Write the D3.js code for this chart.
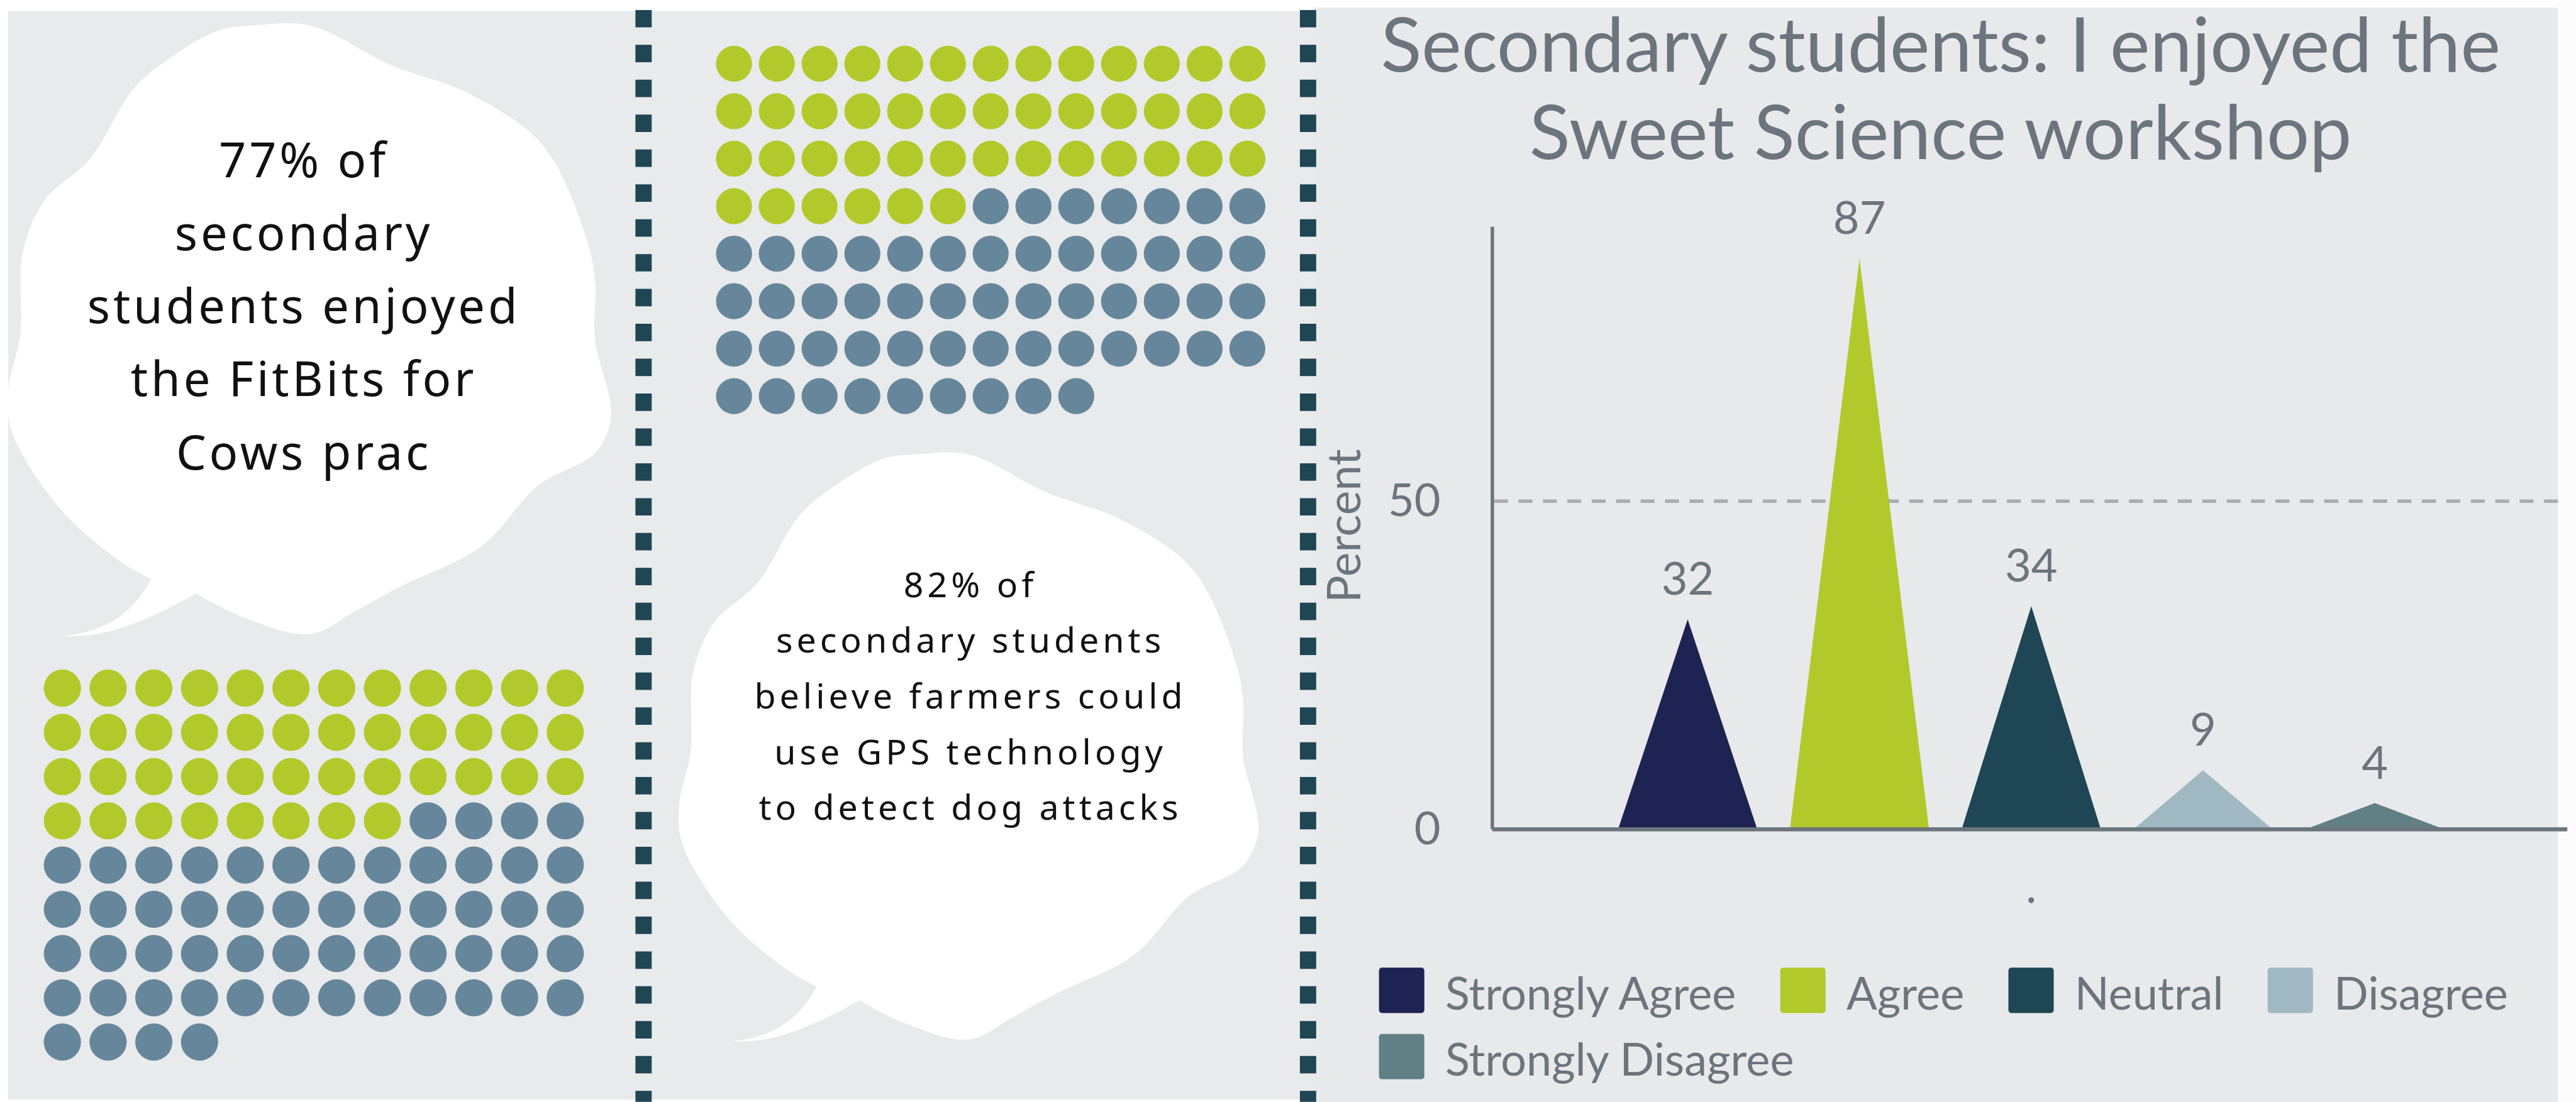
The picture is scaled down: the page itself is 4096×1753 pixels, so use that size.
<!DOCTYPE html>
<html>
<head>
<meta charset="utf-8">
<script src="https://cdn.jsdelivr.net/npm/d3@7"></script>
<style>
html, body { margin: 0; padding: 0; background: #ffffff; overflow: hidden; }
</style>
</head>
<body>
<svg id="chart" width="4096" height="1753" viewBox="0 0 4431 1896"></svg>
<script>
// ---- data ----
var categories = ["Strongly Agree", "Agree", "Neutral", "Disagree", "Strongly Disagree"];
var percents = [32, 87, 34, 9, 4];
var barColors = ["#1e2353", "#b2c92b", "#1f4654", "#a0b8c1", "#618085"];
var yTicks = [0, 50];
var xTitle = ".";
var yTitle = "Percent";
var titleLines = ["Secondary students: I enjoyed the", "Sweet Science workshop"];

// waffles: [highlighted, rest]
var fitbitWaffle = [44, 56];
var gpsWaffle = [45, 55];
var waffleColors = ["#b2c92b", "#66879b"];

var fitbitLines = ["77% of", "secondary", "students enjoyed", "the FitBits for", "Cows prac"];
var gpsLines = ["82% of", "secondary students", "believe farmers could", "use GPS technology", "to detect dog attacks"];

// ---- setup ----
var textGray = "#6c757d";
var svg = d3.select("#chart");

// panels
svg.append("rect").attr("x", 14).attr("y", 19).attr("width", 2250).attr("height", 1873).attr("fill", "#e9eaec");
svg.append("rect").attr("x", 2258).attr("y", 13).attr("width", 2142).attr("height", 1883).attr("fill", "#e8e9eb");
svg.append("rect").attr("x", 4400).attr("y", 0).attr("width", 31).attr("height", 1896).attr("fill", "#fcfcfc");

// dashed separators
[1107, 2250].forEach(function (cx) {
    svg.append("line")
        .attr("x1", cx).attr("x2", cx)
        .attr("y1", 17).attr("y2", 1896)
        .attr("stroke", "#1f4654")
        .attr("stroke-width", 28)
        .attr("stroke-dasharray", "30,30");
});

// ---- speech bubbles ----
var bodyPts = [
    [260, 996], [210, 968], [105, 877], [21, 744], [14, 673], [35, 575], [39, 435],
    [77, 344], [154, 274], [231, 151], [295, 98], [379, 51], [435, 43.5], [533, 43.5],
    [673, 112], [807, 161], [933, 249], [1010, 414], [1024, 491], [1023, 582],
    [1051, 716], [1024, 779], [926, 835], [828, 940], [687, 1010], [610, 1052],
    [533, 1091], [421, 1063], [337, 1021]
];
var bubblePath = d3.line().curve(d3.curveCatmullRom.alpha(0.5))(bodyPts) +
    " Q197,1102 109,1094 Q215,1085 260,996 Z";

function drawBubble(tx, ty, s, lines, cx, baseY, lineH, fontSize, spacing) {
    var g = svg.append("g");
    g.append("path")
        .attr("d", bubblePath)
        .attr("fill", "#ffffff")
        .attr("transform", "translate(" + tx + "," + ty + ") scale(" + s + ")");
    g.selectAll("text.bubble")
        .data(lines)
        .enter()
        .append("text")
        .attr("class", "bubble")
        .attr("x", cx + spacing / 2)
        .attr("y", function (d, i) { return baseY + i * lineH; })
        .attr("text-anchor", "middle")
        .style("font-family", "'Noto Sans', sans-serif")
        .style("font-size", fontSize + "px")
        .style("letter-spacing", spacing + "px")
        .style("fill", "#111111")
        .text(function (d) { return d; });
}
drawBubble(0, 0, 1, fitbitLines, 520, 305, 125.6, 82, 5.2);
drawBubble(1168 - 14 * 0.961, 782 - 43.5 * 0.962, 0.961, gpsLines, 1666, 1027, 96, 60, 6.5);

// ---- waffles ----
function drawWaffle(counts, cols, xr, yr, r) {
    var dots = [];
    counts.forEach(function (c, k) {
        for (var j = 0; j < c; j++) dots.push(k);
    });
    var rows = Math.ceil(dots.length / cols);
    var x = d3.scaleLinear().domain([0, cols - 1]).range(xr);
    var y = d3.scaleLinear().domain([0, rows - 1]).range(yr);
    svg.append("g").selectAll("circle")
        .data(dots)
        .enter()
        .append("circle")
        .attr("cx", function (d, i) { return x(i % cols); })
        .attr("cy", function (d, i) { return y(Math.floor(i / cols)); })
        .attr("r", r)
        .attr("fill", function (d) { return waffleColors[d]; });
}
drawWaffle(fitbitWaffle, 12, [107.3, 972.3], [1184, 1793], 32);
drawWaffle(gpsWaffle, 13, [1262.6, 2145.6], [109.5, 681.5], 31);

// ---- chart ----
var axisX = 2567, baseY = 1427;
var y = d3.scaleLinear().domain([0, 91.8]).range([baseY, 390]);
var x = d3.scalePoint().domain(categories).range([2903, 4085]);
var halfW = x.step() * 0.405;

var chart = svg.append("g");

chart.selectAll("text.title")
    .data(titleLines)
    .enter()
    .append("text")
    .attr("class", "title")
    .attr("x", 3338)
    .attr("y", function (d, i) { return 123 + i * 150; })
    .attr("text-anchor", "middle")
    .style("font-family", "Lato, sans-serif")
    .style("font-size", "130px")
    .style("fill", textGray)
    .text(function (d) { return d; });

// gridline at 50
chart.append("line")
    .attr("x1", axisX + 3).attr("x2", 4400)
    .attr("y1", y(50)).attr("y2", y(50))
    .attr("stroke", "#a8adb2")
    .attr("stroke-width", 6)
    .attr("stroke-dasharray", "24,18");

// y axis labels
var yAxis = d3.axisLeft(y).tickValues(yTicks).tickSize(0).tickPadding(89);
var yg = chart.append("g").attr("transform", "translate(" + axisX + ",0)").call(yAxis);
yg.select(".domain").remove();
yg.selectAll("text")
    .style("font-family", "Lato, sans-serif")
    .style("font-size", "78px")
    .style("fill", textGray);

// triangles
chart.selectAll("path.tri")
    .data(percents)
    .enter()
    .append("path")
    .attr("class", "tri")
    .attr("d", function (d, i) {
        var cx = x(categories[i]);
        return "M" + (cx - halfW) + "," + y(0) + "L" + cx + "," + y(d) + "L" + (cx + halfW) + "," + y(0) + "Z";
    })
    .attr("fill", function (d, i) { return barColors[i]; });

chart.selectAll("text.val")
    .data(percents)
    .enter()
    .append("text")
    .attr("class", "val")
    .attr("x", function (d, i) { return x(categories[i]); })
    .attr("y", function (d) { return y(d) - 42; })
    .attr("text-anchor", "middle")
    .style("font-family", "Lato, sans-serif")
    .style("font-size", "78px")
    .style("fill", textGray)
    .text(function (d) { return d; });

// axis lines
chart.append("line")
    .attr("x1", axisX).attr("x2", axisX)
    .attr("y1", 390).attr("y2", baseY)
    .attr("stroke", textGray).attr("stroke-width", 6);
chart.append("line")
    .attr("x1", axisX).attr("x2", 4416)
    .attr("y1", baseY).attr("y2", baseY)
    .attr("stroke", textGray).attr("stroke-width", 7);

// axis titles
chart.append("text")
    .attr("transform", "translate(2340,905) rotate(-90)")
    .attr("text-anchor", "middle")
    .style("font-family", "Lato, sans-serif")
    .style("font-size", "79px")
    .style("fill", textGray)
    .text(yTitle);
chart.append("text")
    .attr("x", 3494).attr("y", 1553)
    .attr("text-anchor", "middle")
    .style("font-family", "Lato, sans-serif")
    .style("font-size", "78px")
    .style("fill", textGray)
    .text(xTitle);

// legend
var legend = chart.append("g");
var lx = 2372, ly = 1665, sw = 78, maxX = 4400;
categories.forEach(function (c, i) {
    var item = legend.append("g");
    item.append("rect")
        .attr("width", sw).attr("height", sw)
        .attr("rx", 5)
        .attr("fill", barColors[i]);
    var t = item.append("text")
        .attr("x", 114).attr("y", 72)
        .style("font-family", "Lato, sans-serif")
        .style("font-size", "78px")
        .style("fill", textGray)
        .text(c);
    var w = 114 + t.node().getComputedTextLength();
    if (lx + w > maxX) { lx = 2372; ly += 114; }
    item.attr("transform", "translate(" + lx + "," + ly + ")");
    lx += w + 76;
});
</script>
</body>
</html>
